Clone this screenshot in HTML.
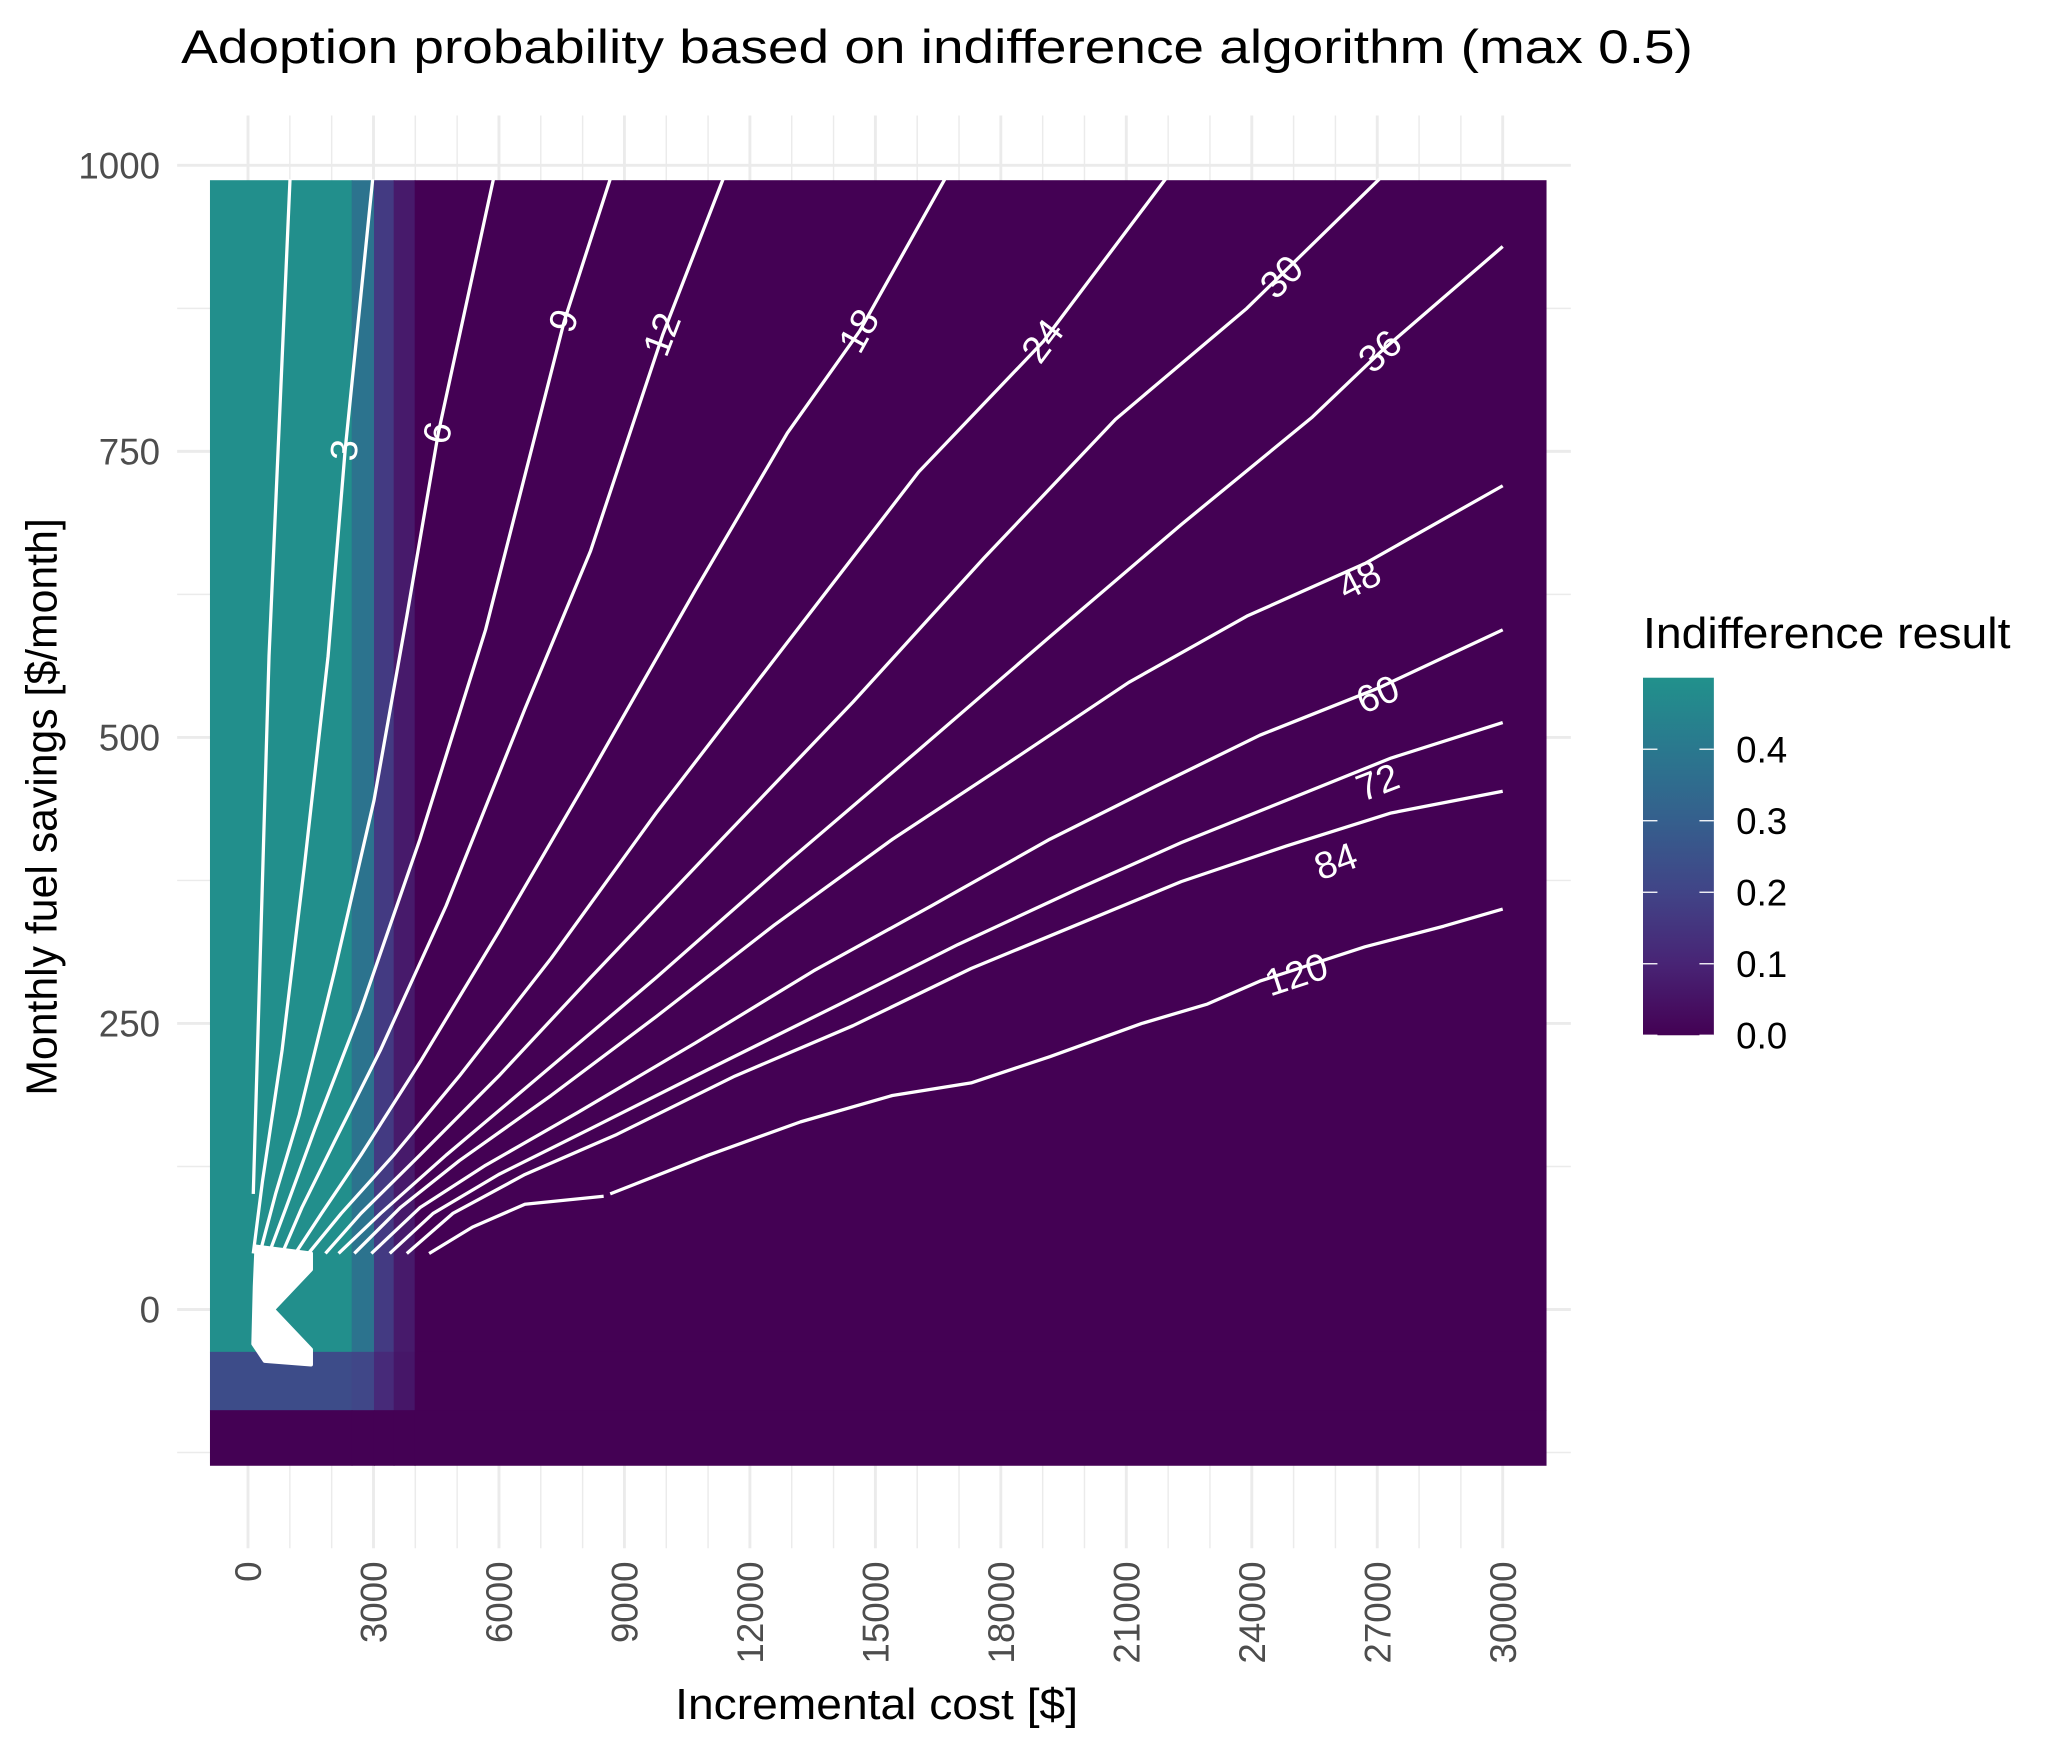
<!DOCTYPE html>
<html><head><meta charset="utf-8"><style>
html,body{margin:0;padding:0;background:#fff;}
svg{display:block;font-family:"Liberation Sans",Arial,sans-serif;}
</style></head><body>
<svg id="chart" width="2059" height="1753" viewBox="0 0 1569 1336" preserveAspectRatio="none" xmlns="http://www.w3.org/2000/svg">
<rect width="1569" height="1336" fill="#fff"/>
<text x="138" y="48" font-size="36" fill="#000" textLength="1152" lengthAdjust="spacingAndGlyphs">Adoption probability based on indifference algorithm (max 0.5)</text>
<g id="grid"></g>
<g id="raster"></g>
<g id="contours"></g>
<g id="axes"></g>
<text x="668" y="1310" font-size="33" text-anchor="middle" fill="#000" textLength="307" lengthAdjust="spacingAndGlyphs">Incremental cost [$]</text>
<text transform="translate(43,615) rotate(-90)" font-size="33" text-anchor="middle" fill="#000" textLength="440" lengthAdjust="spacingAndGlyphs">Monthly fuel savings [$/month]</text>
<g id="legend">
<text x="1252" y="494" font-size="33" fill="#000" textLength="280" lengthAdjust="spacingAndGlyphs">Indifference result</text>
</g>
</svg>
<script>
// ---- data ----
const xTicks = [0,3000,6000,9000,12000,15000,18000,21000,24000,27000,30000];
const xMinor = [1000,2000,4000,5000,7000,8000,10000,11000,13000,14000,16000,17000,19000,20000,22000,23000,25000,26000,28000,29000];
const yTicks = [0,250,500,750,1000];
const yMinor = [-125,125,375,625,875];
const cellXEdges = [-910,2479,3012,3483,3985,31032];
const cellYEdges = [987,-37,-88,-136];
const cellRow1 = [0.49,0.38,0.17,0.07,0.0];
const cellRow2 = [0.23,0.21,0.12,0.06,0.0];
const cellRow3 = [0.0,0.0,0.0,0.0,0.0];
const legendTicks = [0.0,0.1,0.2,0.3,0.4];
const contourLevels = [1,3,6,9,12,18,24,30,36,48,60,72,84,120];
const cost1=[126,502,1004], sav1=[101,571,988];
const cost3=[126,345,816,1349,1914,2322,2981], sav3=[49,112,227,388,571,751,988];
const cost6=[282,659,1224,2071,3012,3797,4550,5868], sav6=[49,101,170,296,445,606,766,988];
const cost9=[502,910,1600,2699,4111,5680,7563,8661], sav9=[49,89,158,262,411,594,864,988];
const cost12=[816,1287,2071,3169,4738,6621,8190,9916,11360], sav12=[49,89,147,227,353,525,663,852,988];
const cost18=[1130,1757,2699,4111,5994,8190,10701,12897,14623,16663], sav18=[49,84,135,216,330,468,629,766,855,988];
const cost24=[1443,2228,3483,5052,7249,9759,12897,16035,19016,21935], sav24=[49,84,135,204,307,434,583,732,846,988];
const cost30=[1851,2699,4111,5994,8190,11328,14466,17604,20742,23880,27050], sav30=[49,84,135,204,290,411,531,657,778,875,988];
const cost36=[2165,3169,4738,6621,9759,12897,16035,19173,22311,25449,27081,30000], sav36=[49,84,135,193,290,391,489,588,686,780,837,929];
const cost48=[2542,3640,5052,7249,9759,12583,15408,18232,21056,23880,26704,30000], sav48=[49,89,130,187,256,336,411,479,548,606,652,720];
const cost60=[2950,4111,5680,7876,10701,13525,16349,19173,21684,24194,27018,30000], sav60=[49,89,126,172,233,296,353,411,457,502,543,594];
const cost72=[3389,4425,5994,8190,11014,14152,16977,19801,22311,24822,27332,30000], sav72=[49,84,118,158,210,267,319,367,408,445,482,513];
const cost84=[3797,4895,6621,8818,11642,14466,17290,19801,22311,24822,27332,30000], sav84=[49,84,118,153,204,248,298,336,374,405,434,453];
const cost120=[4330,5366,6621,8504,null,8661,11014,13211,15407,17290,19173,21370,22939,24194,26704,28587,30000], sav120=[49,72,92,99,null,101,135,164,187,198,221,250,267,287,317,335,350];
const blobCost=[200,1506,1506,600,1506,1506,400,126,160], blobSav=[55,49,35,0,-35,-48,-45,-30,20];
const labelText=["3","6","9","12","18","24","30","36","48","60","72","84","120"];
const labelCost=[2322,4550,7563,9916,14623,19016,24727,27081,26579,27018,27018,26014,25073];
const labelSav=[751,766,864,852,855,846,902,837,637,537,460,391,292];
const labelAngle=[-84,-78,-72,-69,-61,-53,-45,-41,-27,-23,-21,-20,-18];

// ---- scales ----
const xS = c => 189 + c/1000*31.87;
const yS = v => 998 - v*0.872;
const NS="http://www.w3.org/2000/svg";
function mk(tag, attrs, parent){const e=document.createElementNS(NS,tag);for(const k in attrs)e.setAttribute(k,attrs[k]);parent.appendChild(e);return e;}
const vir=[[0,[68,1,84]],[0.1,[72,36,117]],[0.2,[65,68,135]],[0.3,[53,95,141]],[0.4,[42,120,142]],[0.5,[33,145,140]]];
function col(v){v=Math.max(0,Math.min(0.5,v));for(let i=0;i<vir.length-1;i++){const a=vir[i],b=vir[i+1];if(v<=b[0]){const t=(v-a[0])/(b[0]-a[0]);const c=a[1].map((x,j)=>Math.round(x+(b[1][j]-x)*t));return `rgb(${c})`;}}return 'rgb(33,145,140)';}

// grid
const grid=document.getElementById('grid');
yMinor.forEach(v=>{const l=mk('line',{x1:135,x2:1197,y1:yS(v),y2:yS(v),stroke:'#ebebeb','stroke-width':1.1},grid);

});
yTicks.forEach(v=>{const l=mk('line',{x1:135,x2:1197,y1:yS(v),y2:yS(v),stroke:'#ebebeb','stroke-width':2.2},grid);

});
xMinor.forEach(c=>{const l=mk('line',{x1:xS(c),x2:xS(c),y1:88,y2:1180,stroke:'#ebebeb','stroke-width':1.1},grid);

});
xTicks.forEach(c=>{const l=mk('line',{x1:xS(c),x2:xS(c),y1:88,y2:1180,stroke:'#ebebeb','stroke-width':2.2},grid);

});

// raster
const raster=document.getElementById('raster');
[cellRow1,cellRow2,cellRow3].forEach((row,r)=>{row.forEach((v,i)=>{
 const x0=xS(cellXEdges[i]),x1=xS(cellXEdges[i+1]),y0=yS(cellYEdges[r]),y1=yS(cellYEdges[r+1]);
 const e=mk('rect',{x:x0,y:y0,width:x1-x0+0.5,height:y1-y0+0.5,fill:col(v)},raster);
 
 
});});

// contours
const cg=document.getElementById('contours');
function pathOf(cs,ss){let d='',pen=false;for(let i=0;i<cs.length;i++){if(cs[i]===null){pen=false;continue;}d+=(pen?'L':'M')+xS(cs[i]).toFixed(1)+','+yS(ss[i]).toFixed(1);pen=true;}return d;}
const allC=[[cost1,sav1],[cost3,sav3],[cost6,sav6],[cost9,sav9],[cost12,sav12],[cost18,sav18],[cost24,sav24],[cost30,sav30],[cost36,sav36],[cost48,sav48],[cost60,sav60],[cost72,sav72],[cost84,sav84],[cost120,sav120]];
allC.forEach((p,i)=>{const e=mk('path',{d:pathOf(p[0],p[1]),fill:'none',stroke:'#fff','stroke-width':2.5,'stroke-linejoin':'round'},cg);
 
 });
const blob=mk('path',{d:pathOf(blobCost,blobSav)+'Z',fill:'#fff',stroke:'#fff','stroke-width':3,'stroke-linejoin':'round'},cg);


labelText.forEach((t,i)=>{const x=xS(labelCost[i]),y=yS(labelSav[i]);
 const e=mk('text',{x:x,y:y,transform:`rotate(${labelAngle[i]} ${x} ${y})`,'font-size':29,fill:'#fff','text-anchor':'middle','dominant-baseline':'central'},cg);
 e.textContent=t;
 
 });

// axes labels
const ax=document.getElementById('axes');
yTicks.forEach(v=>{const e=mk('text',{x:122,y:yS(v)+10,'font-size':28,'text-anchor':'end',fill:'#4d4d4d'},ax);
 e.textContent=String(v);
 
 });
xTicks.forEach(c=>{const x=xS(c)+10,y=1190;
 const e=mk('text',{x:x,y:y,transform:`rotate(-90 ${x} ${y})`,'font-size':28,'text-anchor':'end',fill:'#4d4d4d'},ax);
 e.textContent=String(c);
 
 });

// legend
const lg=document.getElementById('legend');
const defs=mk('defs',{},lg);
const grad=mk('linearGradient',{id:'vgrad',x1:0,y1:1,x2:0,y2:0},defs);
vir.forEach(s=>mk('stop',{offset:(s[0]/0.5),'stop-color':`rgb(${s[1]})`},grad));
const lyS=v=>789-v*545;
const bar=mk('rect',{x:1252,y:lyS(0.5),width:54,height:lyS(0)-lyS(0.5),fill:'url(#vgrad)'},lg);


legendTicks.forEach(v=>{
 mk('line',{x1:1252,x2:1263,y1:lyS(v),y2:lyS(v),stroke:'#fff','stroke-width':1},lg);
 mk('line',{x1:1295,x2:1306,y1:lyS(v),y2:lyS(v),stroke:'#fff','stroke-width':1},lg);
 const e=mk('text',{x:1323,y:lyS(v)+10,'font-size':28,fill:'#000'},lg);
 e.textContent=v.toFixed(1);
 
 });
</script>
</body></html>
